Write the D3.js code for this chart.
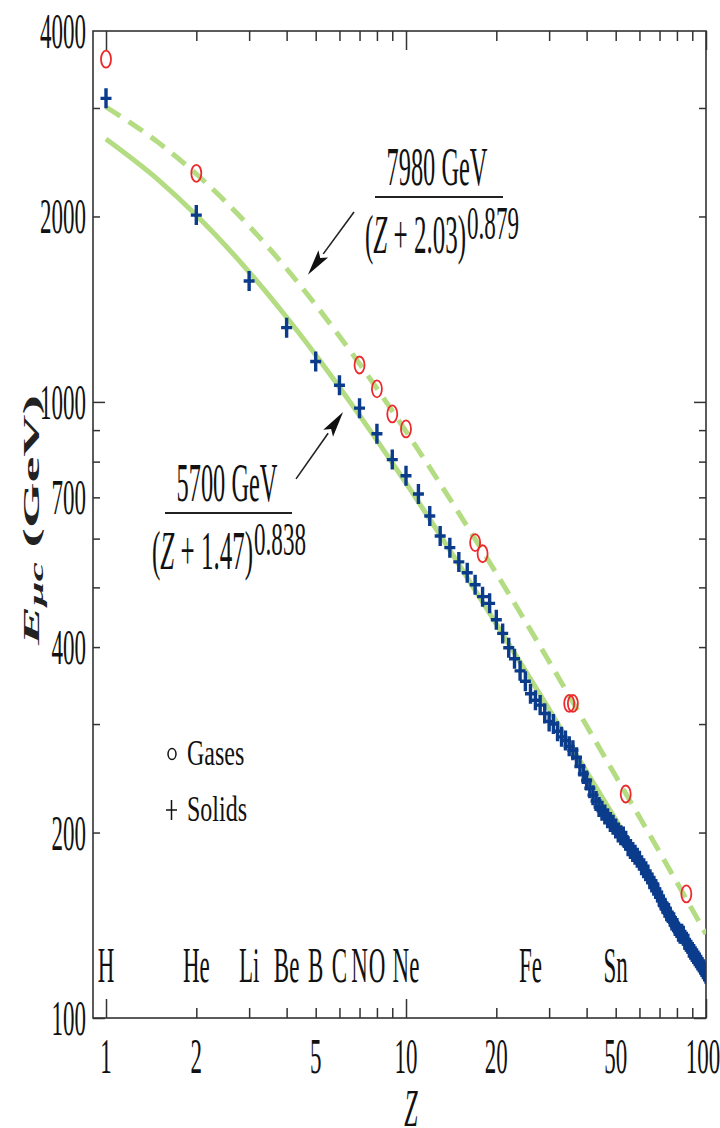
<!DOCTYPE html>
<html>
<head>
<meta charset="utf-8">
<script src="https://cdn.jsdelivr.net/npm/d3@7/dist/d3.min.js"></script>
<style>
  body { margin: 0; background: #fff; }
  svg { display: block; }
</style>
</head>
<body>
<svg id="chart" width="720" height="1128"></svg>
<script>
// gases (open circles)
const gasZ = [1, 2, 7, 8, 9, 10, 17, 18, 35, 36, 54, 86];
const gasE = [3600, 2350, 1148, 1050, 956, 904, 591, 567, 324, 324, 231, 159];

// solids (crosses), Z = 1..100
const solidZ = [
  1, 2, 3, 4, 5, 6, 7, 8, 9, 10, 11, 12, 13, 14, 15, 16, 17, 18, 19, 20,
  21, 22, 23, 24, 25, 26, 27, 28, 29, 30, 31, 32, 33, 34, 35, 36, 37, 38, 39, 40,
  41, 42, 43, 44, 45, 46, 47, 48, 49, 50, 51, 52, 53, 54, 55, 56, 57, 58, 59, 60,
  61, 62, 63, 64, 65, 66, 67, 68, 69, 70, 71, 72, 73, 74, 75, 76, 77, 78, 79, 80,
  81, 82, 83, 84, 85, 86, 87, 88, 89, 90, 91, 92, 93, 94, 95, 96, 97, 98, 99, 100
];
const solidE = [
  3110, 2010, 1571, 1320, 1163, 1064, 977, 888, 806, 759,
  709, 653, 606, 580, 550, 528, 505, 483, 471, 443,
  421, 399, 383, 366, 352, 336, 328, 322, 312, 303,
  300, 292, 286, 282, 276, 272, 265, 256, 249, 243,
  236, 230, 225, 220, 217, 214, 211, 208, 206, 203,
  200, 198, 197, 194, 190, 188, 186, 184, 182, 180,
  177, 175, 173, 171, 168, 166, 164, 162, 160, 157,
  155, 153, 151, 149, 148, 146, 144, 143, 141, 140,
  138, 137, 137, 136, 134, 133, 132, 130, 129, 128,
  127, 126, 125, 124, 123, 122, 121, 120, 119, 118
];

// fit curves
const fitZ = [1, 1.5, 2, 3, 4, 5, 7, 10, 15, 20, 30, 40, 50, 70, 100];
const solidFitE = [2671, 2289, 2009, 1625, 1372, 1192, 951, 738, 545, 436, 317, 251, 210, 159, 118.7];
const gasFitE = [3011, 2633, 2344, 1929, 1645, 1437, 1153, 896, 660, 527, 379, 298, 247, 186, 136.9];

// element labels along the bottom
const elemZ = [1, 2, 3, 4, 5, 6, 7, 8, 10, 26, 50];
const elemNames = ["H", "He", "Li", "Be", "B", "C", "N", "O", "Ne", "Fe", "Sn"];

// ticks
const xTickLabels = [1, 2, 5, 10, 20, 50, 100];
const xMajor = [1, 10, 100];
const xMinor = [2, 3, 4, 5, 6, 7, 8, 9, 20, 30, 40, 50, 60, 70, 80, 90];
const yTickLabels = [100, 200, 400, 700, 1000, 2000, 4000];
const yMajor = [100, 1000];
const yMinor = [200, 300, 400, 500, 600, 700, 800, 900, 2000, 3000];

var x0 = 93, x1 = 706, y0 = 1018, y1 = 31;
var green = "#b4dc82", blue = "#0b3c8c", red = "#ec2a2c", ink = "#333";
var FONT = "'Liberation Serif', 'Times New Roman', serif";

const svg = d3.select("#chart");

var x = d3.scaleLog().domain([0.905, 100]).range([x0, x1]);
var y = d3.scaleLog().domain([100, 4000]).range([y0, y1]);

function txt(parent, px, py, s, o) {
  return parent.append("text")
    .attr("transform", "translate(" + px + "," + py + ") scale(" + (o.sx || 1) + "," + (o.sy || 1) + ")")
    .attr("font-family", FONT)
    .attr("font-size", o.size)
    .attr("text-anchor", o.anchor || "middle")
    .attr("font-style", o.italic ? "italic" : null)
    .attr("fill", "#111")
    .text(s);
}

svg.append("defs").append("clipPath").attr("id", "plot")
  .append("rect").attr("x", x0).attr("y", y1).attr("width", x1 - x0).attr("height", y0 - y1);

// ticks, all pointing inward
function ticks(axis, tx, ty, vals, len) {
  const g = svg.append("g").attr("transform", "translate(" + tx + "," + ty + ")")
    .call(axis.tickValues(vals).tickSizeInner(-len).tickSizeOuter(0).tickFormat(""));
  g.select(".domain").remove();
  g.selectAll("line").attr("stroke", ink).attr("stroke-width", 1.5);
}
ticks(d3.axisBottom(x), 0, y0, xMinor, 10);
ticks(d3.axisBottom(x), 0, y0, xMajor, 19);
ticks(d3.axisTop(x), 0, y1, xMinor, 10);
ticks(d3.axisTop(x), 0, y1, xMajor, 19);
ticks(d3.axisLeft(y), x0, 0, yMinor, 7);
ticks(d3.axisLeft(y), x0, 0, yMajor, 12);
ticks(d3.axisRight(y), x1, 0, yMinor, 7);
ticks(d3.axisRight(y), x1, 0, yMajor, 12);

svg.append("rect")
  .attr("x", x0).attr("y", y1).attr("width", x1 - x0).attr("height", y0 - y1)
  .attr("fill", "none").attr("stroke", ink).attr("stroke-width", 1.6);

// tick labels
xTickLabels.forEach(function (v) {
  txt(svg, Math.min(x(v), 703), 1073, v, { size: 23, sy: 2.2 });
});
yTickLabels.forEach(function (v) {
  txt(svg, 86, y(v) + 17, v, { size: 23, sy: 2.2, anchor: "end" });
});

// element names
elemZ.forEach(function (z, i) {
  txt(svg, x(z), 982, elemNames[i], { size: 23, sy: 2.2 });
});

// fit lines
const plot = svg.append("g").attr("clip-path", "url(#plot)");
var line = d3.line().curve(d3.curveMonotoneX)
  .x(function (d) { return x(d[0]); })
  .y(function (d) { return y(d[1]); });

plot.append("path")
  .datum(fitZ.map(function (z, i) { return [z, gasFitE[i]]; }))
  .attr("d", line)
  .attr("fill", "none").attr("stroke", green).attr("stroke-width", 5)
  .attr("stroke-dasharray", "17,10");

plot.append("path")
  .datum(fitZ.map(function (z, i) { return [z, solidFitE[i]]; }))
  .attr("d", line)
  .attr("fill", "none").attr("stroke", green).attr("stroke-width", 5);

// solids
plot.append("g").selectAll("path")
  .data(solidZ.map(function (z, i) { return [z, solidE[i]]; }))
  .join("path")
  .attr("d", function (d) {
    var cx = x(d[0]), cy = y(d[1]);
    return "M" + (cx - 5.5) + "," + cy + "h11M" + cx + "," + (cy - 10) + "v20";
  })
  .attr("stroke", blue).attr("stroke-width", 3.4).attr("fill", "none");

// gases
plot.append("g").selectAll("ellipse")
  .data(gasZ.map(function (z, i) { return [z, gasE[i]]; }))
  .join("ellipse")
  .attr("cx", function (d) { return x(d[0]); })
  .attr("cy", function (d) { return y(d[1]); })
  .attr("rx", 5).attr("ry", 8.5)
  .attr("fill", "none").attr("stroke", red).attr("stroke-width", 1.8);

// arrows (tail -> tip, in data space)
const arrows = [
  [[6.71, 2034], [4.71, 1608]],
  [[4.30, 750], [6.17, 963]]
];
arrows.forEach(function (a) {
  var ax = x(a[0][0]), ay = y(a[0][1]), bx = x(a[1][0]), by = y(a[1][1]);
  var ang = Math.atan2(by - ay, bx - ax);
  var L = 26, W = 6;
  var hx = bx - L * Math.cos(ang), hy = by - L * Math.sin(ang);
  svg.append("line")
    .attr("x1", ax).attr("y1", ay).attr("x2", hx).attr("y2", hy)
    .attr("stroke", "#222").attr("stroke-width", 1.6);
  svg.append("path")
    .attr("d", "M" + bx + "," + by +
      "L" + (hx + W * Math.sin(ang)) + "," + (hy - W * Math.cos(ang)) +
      "L" + (bx - 0.8 * L * Math.cos(ang)) + "," + (by - 0.8 * L * Math.sin(ang)) +
      "L" + (hx - W * Math.sin(ang)) + "," + (hy + W * Math.cos(ang)) + "Z")
    .attr("fill", "#111");
});

// fit formulas
function formula(cx, num, barY, barX0, barX1, denX, c, sup) {
  txt(svg, cx, barY - 12, num, { size: 24, sy: 2.25 }).attr("textLength", 101).attr("lengthAdjust", "spacingAndGlyphs");
  svg.append("line").attr("x1", barX0).attr("x2", barX1).attr("y1", barY).attr("y2", barY)
    .attr("stroke", "#222").attr("stroke-width", 2);
  var d = txt(svg, denX, barY + 56, "", { size: 25, sy: 2.2, anchor: "start" });
  d.append("tspan").text("(");
  d.append("tspan").attr("font-style", "italic").text("Z");
  d.append("tspan").text(" + " + c + ")");
  d.attr("textLength", 101).attr("lengthAdjust", "spacingAndGlyphs");
  txt(svg, denX + 102, barY + 42, sup, { size: 22, sy: 2.1, anchor: "start" })
    .attr("textLength", 52).attr("lengthAdjust", "spacingAndGlyphs");
}
formula(437, "7980 GeV", 197, 375, 503, 365, "2.03", "0.879");
formula(227, "5700 GeV", 513, 165, 292, 152, "1.47", "0.838");

// legend
svg.append("ellipse").attr("cx", 172).attr("cy", 754).attr("rx", 4).attr("ry", 5.5)
  .attr("fill", "none").attr("stroke", "#111").attr("stroke-width", 1.5);
svg.append("path").attr("d", "M166,810h11M171.5,800v20").attr("stroke", "#111").attr("stroke-width", 1.5);
txt(svg, 187, 765, "Gases", { size: 24, sy: 1.45, anchor: "start" });
txt(svg, 187, 821, "Solids", { size: 24, sy: 1.45, anchor: "start" });

// axis titles
txt(svg, 411, 1126, "Z", { size: 24, sy: 2.2, italic: true });

var yl = svg.append("text")
  .attr("transform", "translate(39,520) rotate(-90)")
  .attr("font-family", FONT)
  .attr("font-size", 24)
  .attr("font-weight", "bold")
  .attr("text-anchor", "middle")
  .attr("fill", "#222")
  .attr("textLength", 250)
  .attr("lengthAdjust", "spacingAndGlyphs");
yl.append("tspan").attr("font-style", "italic").text("E");
yl.append("tspan").attr("font-style", "italic").attr("font-size", 18).attr("dy", 4).text("μc");
yl.append("tspan").attr("dy", -4).text(" (GeV)");
</script>
</body>
</html>
